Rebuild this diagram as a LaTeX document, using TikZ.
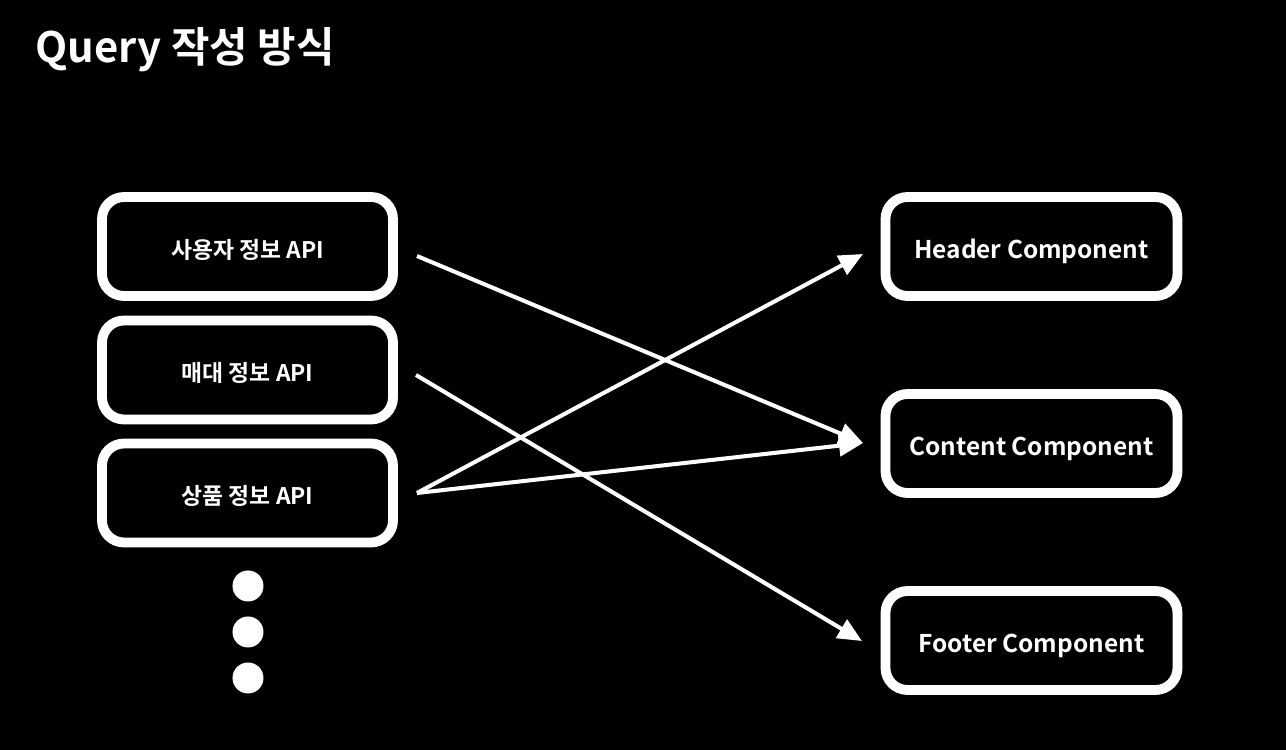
\documentclass[tikz,border=0pt]{standalone}
\usepackage{fontspec}
\setmainfont{Noto Sans CJK KR}[BoldFont={Noto Sans CJK KR Bold}]
\usetikzlibrary{arrows.meta, positioning}

\begin{document}
\begin{tikzpicture}[
  box/.style={draw=white, line width=2.8pt, rounded corners=0.22cm, text=white,
    font=\fontsize{6.5}{7}\selectfont\bfseries, text height=0.86em, text depth=0.2em,
    minimum width=2.91cm, minimum height=0.99cm},
  apibox/.style={box},
  compbox/.style={box, minimum width=2.92cm, font=\fontsize{6.95}{8}\selectfont\bfseries},
  flow/.style={draw=white, line width=1.15pt, -{Triangle[length=0.24cm, width=0.21cm]}},
  dot/.style={circle, fill=white, inner sep=0pt, minimum size=0.31cm},
]
% Background
\fill[black] (0,0) rectangle (12.86,7.5);
\useasboundingbox (0,0) rectangle (12.86,7.5);

% Title
\node[anchor=base west, text=white, font=\fontsize{11.9}{13}\selectfont\bfseries, inner sep=0pt]
  (title) at (0.35,6.87) {Query 작성 방식};

% API boxes (left)
\node[apibox] (user) at (2.475,5.035) {사용자 정보 API};
\node[apibox] (display) at (2.475,3.80) {매대 정보 API};
\node[apibox] (product) at (2.475,2.57) {상품 정보 API};

% more APIs
\node[dot] (dota) at (2.48,1.64) {};
\node[dot] (dotb) at (2.48,1.18) {};
\node[dot] (dotc) at (2.48,0.72) {};

% Component boxes (right)
\node[compbox] (header) at (10.315,5.035) {Header Component};
\node[compbox] (content) at (10.315,3.065) {Content Component};
\node[compbox] (footer) at (10.315,1.095) {Footer Component};

% Arrow ends
\coordinate (userout) at (4.17,4.94);
\coordinate (displayout) at (4.16,3.75);
\coordinate (productout) at (4.17,2.57);
\coordinate (headerin) at (8.63,4.96);
\coordinate (contentin) at (8.63,3.07);
\coordinate (footerin) at (8.62,1.09);

% Data flow
\draw[flow] (userout) -- (contentin);
\draw[flow] (displayout) -- (footerin);
\draw[flow] (productout) -- (headerin);
\draw[flow] (productout) -- (contentin);
\end{tikzpicture}
\end{document}
